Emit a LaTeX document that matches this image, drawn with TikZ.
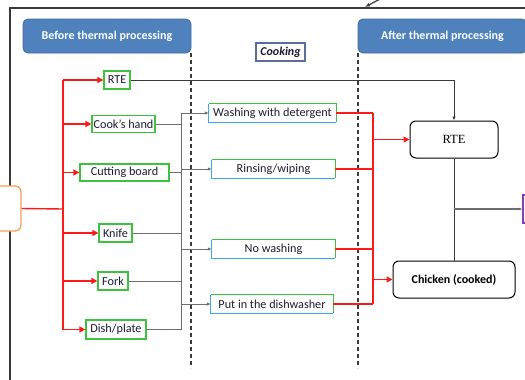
\documentclass[tikz,border=0pt]{standalone}
\usepackage{fontspec}
\setmainfont{Carlito}
\newfontfamily\serifrte{Liberation Serif}
\usetikzlibrary{arrows.meta,calc}
\definecolor{hdrfill}{HTML}{4F81BD}
\definecolor{hdrline}{HTML}{41699A}
\definecolor{itgreen}{HTML}{3DC23D}
\definecolor{itblue}{HTML}{3AA8EC}
\definecolor{redln}{HTML}{FF1A1A}
\definecolor{greyln}{HTML}{6E6E6E}
\definecolor{frameln}{HTML}{3A3A3A}
\definecolor{txtdark}{HTML}{1C1C33}
\definecolor{cookline}{HTML}{5A6F96}
\definecolor{orangeln}{HTML}{F7A055}
\definecolor{purpleln}{HTML}{7F3FBF}
\tikzset{
  base/.style={inner sep=0pt, font=\fontsize{12.2}{13}\selectfont, text=txtdark},
  item/.style={base, draw=itgreen, line width=1.2pt, fill=white},
  method/.style={base, fill=white},
  header/.style={base, rounded corners=5pt, draw=hdrline, line width=0.8pt, fill=hdrfill, text=white, font=\fontsize{12}{13}\selectfont\bfseries},
  result/.style={base, rounded corners=6pt, draw=black, line width=1pt, fill=white, text=black},
  redarrow/.style={draw=redln, line width=1.4pt, -{Triangle[length=6pt,width=6pt]}},
  redline/.style={draw=redln, line width=1.4pt},
  greyline/.style={draw=greyln, line width=1pt},
  greyarrow/.style={draw=greyln, line width=1pt, -{Latex[length=4pt,width=3.5pt]}},
  thinarrow/.style={draw=frameln, line width=0.9pt, -{Latex[length=4pt,width=3.5pt]}},
  divider/.style={draw=frameln, line width=1.1pt, dash pattern=on 4pt off 3pt},
  frame/.style={draw=frameln, line width=1.6pt}
}
\begin{document}
\begin{tikzpicture}[x=1pt,y=-1pt]
\useasboundingbox (0,0) rectangle (525,380);
% frame
\coordinate (ftl) at (10,8);
\coordinate (ftr) at (540,8);
\coordinate (fbl) at (10,400);
\draw[frame] (ftr) -- (ftl) -- (fbl);
\coordinate (tarrS) at (382,-2);
\coordinate (tarrE) at (365,7);
\draw[frameln, line width=1.2pt, -{Latex[length=5pt,width=4pt]}] (tarrS) -- (tarrE);
% dividers
\coordinate (d1t) at (191,53); \coordinate (d1b) at (191,368);
\coordinate (d2t) at (358,53); \coordinate (d2b) at (358,368);
\draw[divider] (d1t) -- (d1b);
\draw[divider] (d2t) -- (d2b);
% headers
\node[header, minimum width=168pt, minimum height=34pt] (before) at (107,36) {Before thermal processing};
\node[header, minimum width=169pt, minimum height=34pt] (after) at (442.5,36) {After thermal processing};
\node[base, draw=cookline, line width=1.1pt, fill=white, minimum width=49pt, minimum height=18pt, font=\fontsize{12}{13}\selectfont\bfseries\itshape] (cooking) at (280.5,52) {Cooking};
% source boxes
\node[base, rounded corners=6pt, draw=orangeln, line width=1.3pt, fill=white, minimum width=51pt, minimum height=45pt] (orange) at (-4.5,208.5) {};
\node[base, draw=purpleln, line width=1.3pt, fill=white, minimum width=17pt, minimum height=28pt] (purple) at (531.5,209) {};
% items
\node[item, minimum width=26pt, minimum height=18pt] (rteitem) at (117,80) {RTE};
\node[item, minimum width=63pt, minimum height=17pt] (hand) at (123.5,124) {Cook’s hand};
\node[item, minimum width=89pt, minimum height=17pt] (board) at (124.5,172.5) {Cutting board};
\node[item, minimum width=33pt, minimum height=18pt] (knife) at (115.5,233) {Knife};
\node[item, minimum width=30pt, minimum height=18pt] (fork) at (113,281) {Fork};
\node[item, minimum width=60pt, minimum height=19pt] (dish) at (116,329.5) {Dish/plate};
% methods
\node[method, minimum width=127pt, minimum height=18pt] (wash) at (272.5,113) {Washing with detergent};
\node[method, minimum width=123pt, minimum height=18pt] (rinse) at (273.5,169) {Rinsing/wiping};
\node[method, minimum width=123pt, minimum height=18pt] (nowash) at (273.5,249) {No washing};
\node[method, minimum width=122pt, minimum height=18pt] (dishw) at (272,304) {Put in the dishwasher};
\foreach \n in {wash,rinse,nowash,dishw}{
  \draw[itblue, line width=1.2pt] (\n.north west) -- (\n.south west) -- (\n.south east);
  \draw[itgreen, line width=1.2pt] (\n.north west) -- (\n.north east) -- (\n.south east);
}
% results
\node[result, minimum width=88pt, minimum height=37pt, font=\serifrte\fontsize{12.5}{14}\selectfont] (rte) at (454,139.5) {RTE};
\node[result, minimum width=122pt, minimum height=37pt, font=\fontsize{12}{13}\selectfont\bfseries] (chicken) at (454,279.5) {Chicken (cooked)};
% red distribution
\coordinate (rs) at (63,209);
\coordinate (rtop) at (63,80);
\coordinate (rbot) at (63,329.5);
\draw[redline] (orange.east) -- (rs);
\draw[redline] (rtop) -- (rbot);
\foreach \n in {rteitem,hand,board,knife,fork,dish}{
  \draw[redarrow] (63,0 |- \n.west) -- (\n.west);
}
% grey collection
\coordinate (gtop) at (181,113);
\coordinate (gbot) at (181,329.5);
\draw[greyline] (gtop) -- (gbot);
\foreach \n in {hand,board,knife,fork,dish}{
  \draw[greyline] (\n.east) -- (181,0 |- \n.east);
}
\foreach \n in {wash,rinse,nowash,dishw}{
  \draw[greyarrow] (181,0 |- \n.west) -- (\n.west);
}
% RTE direct line
\coordinate (rtecorner) at (454,80);
\draw[thinarrow] (rteitem.east) -- (rtecorner) -- (rte.north);
% red collection
\coordinate (r2top) at (373,113);
\coordinate (r2bot) at (373,304);
\draw[redline] (r2top) -- (r2bot);
\foreach \n in {wash,rinse,nowash,dishw}{
  \draw[redline] (\n.east) -- (373,0 |- \n.east);
}
\draw[redarrow] (373,0 |- rte.west) -- (rte.west);
\draw[redarrow] (373,0 |- chicken.west) -- (chicken.west);
% results link
\draw[frameln, line width=1pt] (rte.south) -- (chicken.north);
\coordinate (pj) at (454,209);
\draw[greyln, line width=1.1pt, -{Latex[length=3.5pt,width=3pt]}] (pj) -- (purple.west);
\end{tikzpicture}
\end{document}
